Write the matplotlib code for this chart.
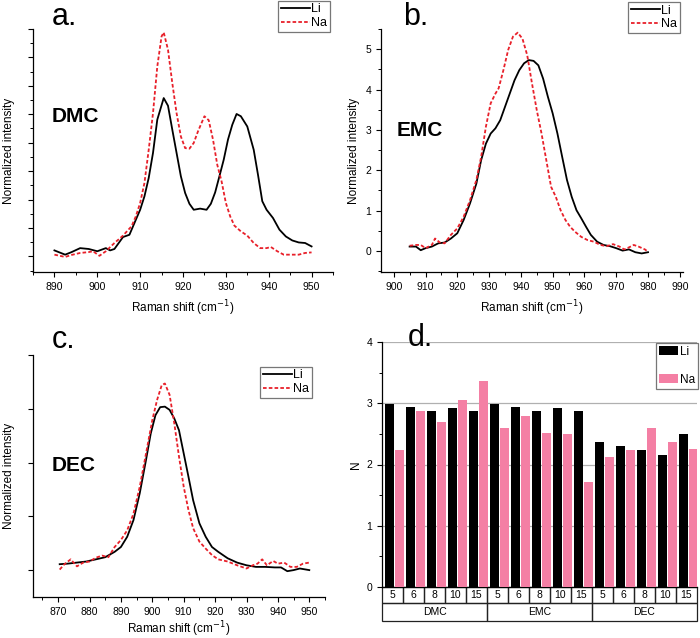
import matplotlib
matplotlib.use("Agg")
import matplotlib.pyplot as plt
from matplotlib.ticker import MultipleLocator, NullFormatter
from matplotlib.patches import Rectangle
import matplotlib.transforms as mtransforms
import numpy as np

plt.rcParams['font.family'] = ['Liberation Sans', 'DejaVu Sans']

# ---------------- data ----------------
# Panel a (DMC)
a_li_x = [890, 892.5, 894, 896, 898, 900, 902, 903, 904, 906, 907.5, 909, 910, 911, 912, 913, 914, 915.5,
          916.5, 917.5, 918.5, 919.5, 920.5, 921.5, 922.5, 924, 925.5, 926.5, 927.5, 928.5, 929.5, 930.5,
          931.5, 932.5, 933.5, 935, 936.5, 937.5, 938.5, 939.5, 941, 942.5, 944, 945.5, 947, 948.5, 950]
a_li_y = [0.21, 0.06, 0.15, 0.29, 0.26, 0.18, 0.29, 0.21, 0.26, 0.68, 0.76, 1.29, 1.64, 2.11, 2.76, 3.64, 4.81, 5.57,
          5.30, 4.46, 3.64, 2.82, 2.23, 1.85, 1.64, 1.68, 1.64, 1.85, 2.25, 2.82, 3.40, 4.11,
          4.63, 5.01, 4.93, 4.57, 3.75, 2.87, 1.94, 1.64, 1.35, 0.94, 0.70, 0.56, 0.49, 0.47, 0.35]
a_na_x = [890, 892.5, 894, 896, 898, 899, 900.5, 902, 904, 906, 908, 909, 910, 911, 912, 913, 914, 915, 915.5,
          916.5, 917.5, 918.5, 919.5, 920.5, 921.5, 922.5, 923.5, 925, 926, 927, 928, 929, 930, 931, 932,
          933.5, 935, 936.5, 938, 939.5, 940.5, 942, 943.5, 945, 947, 948.5, 950]
a_na_y = [0.06, -0.02, 0.05, 0.12, 0.15, 0.18, 0.02, 0.18, 0.47, 0.73, 1.06, 1.41, 1.88, 2.58, 3.75, 5.04, 6.68, 7.74, 7.88,
          7.27, 6.10, 5.04, 4.22, 3.81, 3.79, 3.99, 4.40, 4.93, 4.79, 4.11, 3.22, 2.64, 1.88, 1.41, 1.08,
          0.88, 0.73, 0.47, 0.29, 0.29, 0.33, 0.18, 0.06, 0.06, 0.06, 0.12, 0.14]

# Panel b (EMC)
b_li_x = [905, 907, 908.5, 910, 912, 914, 916, 918, 920, 922, 924, 926, 927.5, 929, 930.5, 932, 933.5, 935,
          936.5, 938, 939.5, 941, 942.5, 944, 945.5, 947, 948.5, 950, 951.5, 953, 954.5, 956, 957.5, 959,
          960.5, 962, 964, 966, 968, 970, 972, 974, 976, 978, 980]
b_li_y = [0.11, 0.11, 0.02, 0.07, 0.11, 0.19, 0.21, 0.31, 0.44, 0.77, 1.18, 1.67, 2.25, 2.66, 2.91, 3.04, 3.24, 3.57,
          3.90, 4.23, 4.48, 4.65, 4.73, 4.71, 4.60, 4.27, 3.82, 3.41, 2.91, 2.33, 1.76, 1.34, 1.01, 0.81,
          0.60, 0.40, 0.23, 0.15, 0.12, 0.07, 0.01, 0.04, -0.03, -0.06, -0.03]
b_na_x = [905, 907, 908.5, 910, 912, 913, 914.5, 916, 918, 920, 922, 924, 926, 927.5, 929, 930.5, 932, 933,
          934.5, 936, 937.5, 939, 940.5, 942, 943.5, 945, 946.5, 948, 949.5, 951, 952.5, 954, 955.5, 957,
          959, 961, 963, 965, 967, 969, 971, 972.5, 974, 975.5, 977, 979, 980]
b_na_y = [0.13, 0.15, 0.15, 0.07, 0.15, 0.31, 0.21, 0.19, 0.40, 0.56, 0.85, 1.26, 1.76, 2.33, 3.08, 3.66, 3.90, 4.03,
          4.48, 4.98, 5.31, 5.41, 5.26, 4.85, 4.15, 3.49, 2.91, 2.25, 1.59, 1.34, 1.01, 0.77, 0.60, 0.48,
          0.35, 0.27, 0.23, 0.15, 0.12, 0.17, 0.11, 0.04, 0.09, 0.15, 0.11, 0.04, -0.02]

# Panel c (DEC)
c_li_x = [870.5, 873, 876, 879, 882, 885, 888, 890, 892, 894, 896, 898, 899.5, 901, 902.5, 904, 905.5, 907,
          908.5, 910, 911.5, 913, 915, 917, 919, 921, 924, 927, 930, 933, 936, 939, 941, 943, 945, 947, 950]
c_li_y = [0.11, 0.12, 0.14, 0.16, 0.20, 0.24, 0.34, 0.43, 0.62, 0.93, 1.43, 2.05, 2.54, 2.88, 3.03, 3.04, 2.98, 2.82,
          2.60, 2.17, 1.74, 1.30, 0.87, 0.62, 0.43, 0.34, 0.22, 0.14, 0.09, 0.06, 0.06, 0.05, 0.05, -0.02, 0.00, 0.03, 0.00]
c_na_x = [870.5, 872, 874, 876, 878, 880, 882, 884, 886, 888, 890, 892, 894, 896, 898, 900, 901.5, 903, 904,
          905.5, 907, 908.5, 910, 911.5, 913, 915, 917, 919, 921, 924, 927, 930, 932, 933.5, 935, 936.5,
          938.5, 940, 942, 944, 946, 948, 950]
c_na_y = [0.01, 0.11, 0.20, 0.07, 0.14, 0.16, 0.23, 0.27, 0.24, 0.43, 0.56, 0.74, 1.05, 1.55, 2.17, 2.79, 3.16, 3.44, 3.47,
          3.26, 2.73, 2.11, 1.55, 1.12, 0.78, 0.53, 0.40, 0.28, 0.20, 0.16, 0.09, 0.03, 0.09, 0.12, 0.20, 0.09,
          0.17, 0.12, 0.14, 0.06, 0.06, 0.12, 0.14]

# Panel d (coordination number)
solvents = ["DMC", "EMC", "DEC"]
concentrations = ["5", "6", "8", "10", "15"]
n_li = [2.98, 2.94, 2.87, 2.92, 2.88,
        2.98, 2.94, 2.87, 2.92, 2.88,
        2.36, 2.30, 2.23, 2.15, 2.49]
n_na = [2.24, 2.88, 2.69, 3.05, 3.36,
        2.59, 2.80, 2.52, 2.49, 1.71,
        2.13, 2.23, 2.59, 2.37, 2.25]

# ---------------- styles ----------------
LI_C = "black"
NA_C = "#e8202a"
PINK = "#f47fa4"
DASH = (0, (2.0, 1.2))
W, H = 700, 638

fig = plt.figure(figsize=(7, 6.38), dpi=100)


def pos(l, t, r, b):
    return [l / W, (H - b) / H, (r - l) / W, (b - t) / H]


def style(ax):
    for s in ["top", "right"]:
        ax.spines[s].set_visible(False)
    for s in ["left", "bottom"]:
        ax.spines[s].set_linewidth(0.9)
    ax.tick_params(which="major", direction="out", length=3.5, width=0.8, labelsize=7.5)
    ax.tick_params(which="minor", direction="out", length=2.0, width=0.7)


def labels(ax, ylab_x_px, ax_left_px, ax_width_px, ax_height_px, xlab_off_px=26,
           ylabel="Normalized intensity"):
    ax.set_xlabel("Raman shift (cm$^{-1}$)", fontsize=8.5)
    ax.xaxis.set_label_coords(0.5, -xlab_off_px / ax_height_px)
    ax.set_ylabel(ylabel, fontsize=8.5)
    ax.yaxis.set_label_coords((ylab_x_px - ax_left_px) / ax_width_px, 0.5)


def line_legend(ax, anchor):
    leg = ax.legend(loc="upper right", bbox_to_anchor=anchor, bbox_transform=fig.transFigure,
                    fontsize=9, frameon=True, fancybox=False, handlelength=2.3,
                    handletextpad=0.15, borderpad=0.2, labelspacing=0.15, borderaxespad=0)
    leg.get_frame().set_edgecolor("#555555")
    leg.get_frame().set_linewidth(0.9)


# ---- panel a ----
ax = fig.add_axes(pos(33, 29, 333, 272))
ax.plot(a_li_x, a_li_y, color=LI_C, lw=1.3, label="Li")
ax.plot(a_na_x, a_na_y, color=NA_C, lw=1.3, ls=DASH, label="Na")
ax.set_xlim(885, 955)
ax.set_ylim(-0.55, 8.0)
ax.xaxis.set_major_locator(MultipleLocator(10))
ax.xaxis.set_minor_locator(MultipleLocator(5))
ax.yaxis.set_major_locator(MultipleLocator(1))
ax.yaxis.set_minor_locator(MultipleLocator(0.5))
ax.yaxis.set_major_formatter(NullFormatter())
style(ax)
labels(ax, 15, 33, 300, 243)
ax.text(52 / W, 1 - 17 / H, "a.", transform=fig.transFigure, fontsize=22, va="center", ha="left")
ax.text(0.063, 0.638, "DMC", transform=ax.transAxes, fontsize=15, fontweight="bold", va="center")
line_legend(ax, (330 / W, 1 - 1 / H))

# ---- panel b ----
ax = fig.add_axes(pos(381, 29, 683, 272))
ax.plot(b_li_x, b_li_y, color=LI_C, lw=1.3, label="Li")
ax.plot(b_na_x, b_na_y, color=NA_C, lw=1.3, ls=DASH, label="Na")
ax.set_xlim(896, 991)
ax.set_ylim(-0.52, 5.5)
ax.xaxis.set_major_locator(MultipleLocator(10))
ax.xaxis.set_minor_locator(MultipleLocator(5))
ax.yaxis.set_major_locator(MultipleLocator(1))
ax.yaxis.set_minor_locator(MultipleLocator(0.5))
style(ax)
labels(ax, 360, 381, 302, 243)
ax.text(403 / W, 1 - 17 / H, "b.", transform=fig.transFigure, fontsize=22, va="center", ha="left")
ax.text(0.053, 0.584, "EMC", transform=ax.transAxes, fontsize=15, fontweight="bold", va="center")
line_legend(ax, (680 / W, 1 - 2 / H))

# ---- panel c ----
ax = fig.add_axes(pos(33, 355, 325, 597))
ax.plot(c_li_x, c_li_y, color=LI_C, lw=1.3, label="Li")
ax.plot(c_na_x, c_na_y, color=NA_C, lw=1.3, ls=DASH, label="Na")
ax.set_xlim(862, 955)
ax.set_ylim(-0.5, 4.0)
ax.xaxis.set_major_locator(MultipleLocator(10))
ax.xaxis.set_minor_locator(MultipleLocator(5))
ax.yaxis.set_major_locator(MultipleLocator(1))
ax.yaxis.set_major_formatter(NullFormatter())
style(ax)
labels(ax, 15, 33, 292, 242, xlab_off_px=22)
ax.text(52 / W, 1 - 340 / H, "c.", transform=fig.transFigure, fontsize=22, va="center", ha="left")
ax.text(0.065, 0.545, "DEC", transform=ax.transAxes, fontsize=15, fontweight="bold", va="center")
line_legend(ax, (312 / W, 1 - 367 / H))

# ---- panel d ----
ax = fig.add_axes(pos(382, 342, 697, 587))
n = len(n_li)
idx = np.arange(n)
ax.bar(idx + 0.365, n_li, width=0.41, color="black", label="Li", zorder=3)
ax.bar(idx + 0.83, n_na, width=0.41, color=PINK, label="Na", zorder=3)
ax.set_xlim(0, n)
ax.set_ylim(0, 4)
ax.yaxis.set_major_locator(MultipleLocator(1))
ax.yaxis.set_minor_locator(MultipleLocator(0.5))
ax.set_xticks([])
ax.yaxis.grid(True, color="#b0b0b0", lw=0.9, zorder=0)
style(ax)
ax.set_ylabel("N", fontsize=8.5)
ax.yaxis.set_label_coords((362 - 382) / 315, 0.5)
ax.text(408 / W, 1 - 338 / H, "d.", transform=fig.transFigure, fontsize=22, va="center", ha="left")
leg = ax.legend(loc="upper right", bbox_to_anchor=(698 / W, 1 - 343 / H), bbox_transform=fig.transFigure,
                fontsize=8.5, frameon=True, fancybox=False, handlelength=1.6, handleheight=0.8,
                handletextpad=0.15, borderpad=0.25, labelspacing=1.35, borderaxespad=0)
leg.get_frame().set_edgecolor("#555555")
leg.get_frame().set_linewidth(0.9)

# category table below the axis
trans = mtransforms.blended_transform_factory(ax.transData, ax.transAxes)
r1 = 16 / 245
r2 = 34 / 245
for i in range(n):
    ax.add_patch(Rectangle((i, -r1), 1, r1, transform=trans, clip_on=False,
                           fill=False, edgecolor="#222222", lw=0.9))
    ax.text(i + 0.5, -r1 / 2, concentrations[i % len(concentrations)], transform=trans,
            ha="center", va="center", fontsize=7.5)
per = len(concentrations)
for j, s in enumerate(solvents):
    ax.add_patch(Rectangle((j * per, -r2), per, r2 - r1, transform=trans, clip_on=False,
                           fill=False, edgecolor="#222222", lw=0.9))
    ax.text(j * per + per / 2, -(r1 + r2) / 2, s, transform=trans,
            ha="center", va="center", fontsize=7.5)

fig.savefig("out.png", dpi=100)
